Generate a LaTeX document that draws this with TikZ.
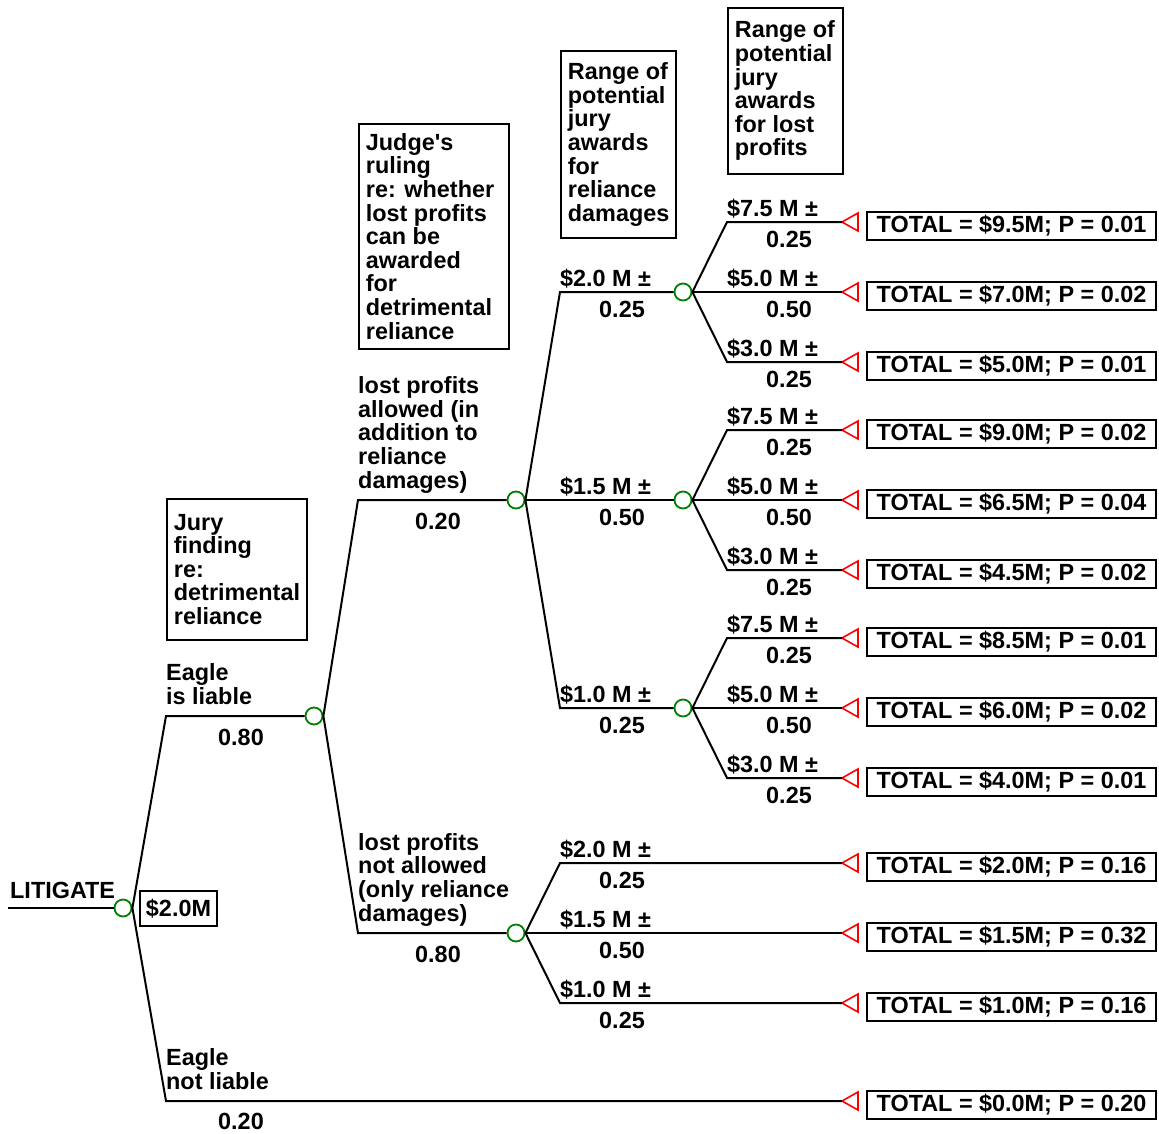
\documentclass[tikz,border=0pt]{standalone}
\usepackage{fontspec}
\setmainfont{Liberation Sans}[Ligatures=TeXOff]
\definecolor{chancegreen}{RGB}{0,128,0}
% left-aligned multi-line text of a fixed width inside a framed note
\newcommand\notetext[2]{\hbox to #1{\vtop{#2}\hss}}
\begin{document}
\begin{tikzpicture}[x=1pt,y=-1pt,
  txt/.style={font=\fontsize{23.4}{23.6}\selectfont\bfseries, inner sep=0pt},
  lbl/.style={txt, anchor=base west},
  prob/.style={txt, anchor=base},
  branch/.style={line width=2pt, black},
  chance/.style={circle, draw=chancegreen, line width=1.8pt, fill=white,
                 minimum size=17pt, inner sep=0pt},
  endtri/.style={draw=red, line width=1.6pt, fill=white, line join=miter},
  total/.style={txt, draw, line width=1.8pt, minimum width=289pt,
                text height=20pt, text depth=8pt, inner ysep=0pt},
  note/.style={txt, draw, line width=1.8pt, anchor=north west,
               inner xsep=7pt, inner ysep=0pt},
]
\useasboundingbox (0,0) rectangle (1159,1133);

% ---- terminal markers and outcome boxes
\foreach \n/\y/\t in {1/222/{\$9.5M; P = 0.01}, 2/292/{\$7.0M; P = 0.02},
                      3/362/{\$5.0M; P = 0.01}, 4/430/{\$9.0M; P = 0.02},
                      5/500/{\$6.5M; P = 0.04}, 6/570/{\$4.5M; P = 0.02},
                      7/638/{\$8.5M; P = 0.01}, 8/708/{\$6.0M; P = 0.02},
                      9/778/{\$4.0M; P = 0.01}, 10/863/{\$2.0M; P = 0.16},
                      11/933/{\$1.5M; P = 0.32}, 12/1003/{\$1.0M; P = 0.16},
                      13/1101/{\$0.0M; P = 0.20}}{
  \coordinate (e\n) at (842,\y);
  \draw[endtri] (e\n) -- ++(16,-9) -- ++(0,18) -- cycle;
  \node[total] (r\n) at (1011.5,\y+4) {TOTAL = \t};
}

% ---- chance nodes
\node[chance] (c0) at (123,908) {};
\node[chance] (c1) at (314,716) {};
\node[chance] (c2) at (516,500) {};
\node[chance] (c3) at (516,933) {};
\node[chance] (c4) at (683,292) {};
\node[chance] (c5) at (683,500) {};
\node[chance] (c6) at (683,708) {};

% ---- root
\coordinate (start) at (8,908);
\draw[branch] (start) -- (c0.west);
\node[lbl] (litigate) at (10,898) {LITIGATE};
\node[txt, draw, line width=1.8pt, minimum width=77pt, minimum height=35pt]
  (value) at (178.5,908.5) {\$2.0M};

% ---- jury finding
\coordinate (k1) at (166,716);
\coordinate (k2) at (166,1101);
\draw[branch] (c0.east) -- (k1) -- (c1.west);
\draw[branch] (c0.east) -- (k2) -- (e13);
\node[lbl] (l1) at (166,704) {\vbox{\hbox{Eagle}\hbox{is liable}}};
\node[prob] (p1) at (241,745) {0.80};
\node[lbl] (l2) at (166,1089) {\vbox{\hbox{Eagle}\hbox{not liable}}};
\node[prob] (p2) at (241,1129) {0.20};

% ---- judge's ruling
\coordinate (k3) at (358,500);
\coordinate (k4) at (358,933);
\draw[branch] (c1.east) -- (k3) -- (c2.west);
\draw[branch] (c1.east) -- (k4) -- (c3.west);
\node[lbl] (l3) at (358,488) {\vbox{\hbox{lost profits}\hbox{allowed (in}%
  \hbox{addition to}\hbox{reliance}\hbox{damages)}}};
\node[prob] (p3) at (438,529) {0.20};
\node[lbl] (l4) at (358,921) {\vbox{\hbox{lost profits}\hbox{not allowed}%
  \hbox{(only reliance}\hbox{damages)}}};
\node[prob] (p4) at (438,962) {0.80};

% ---- reliance damages
\coordinate (k5) at (560,292);
\coordinate (k6) at (560,708);
\draw[branch] (c2.east) -- (k5) -- (c4.west);
\draw[branch] (c2.east) -- (c5.west);
\draw[branch] (c2.east) -- (k6) -- (c6.west);
\coordinate (k7) at (560,863);
\coordinate (k8) at (560,1003);
\draw[branch] (c3.east) -- (k7) -- (e10);
\draw[branch] (c3.east) -- (e11);
\draw[branch] (c3.east) -- (k8) -- (e12);
\foreach \n/\y/\v/\q in {a/292/2.0/0.25, b/500/1.5/0.50, c/708/1.0/0.25,
                         d/863/2.0/0.25, e/933/1.5/0.50, f/1003/1.0/0.25}{
  \node[lbl] (v\n) at (560,\y-6) {\$\v{} M ±};
  \node[prob] (q\n) at (622,\y+25) {\q};
}

% ---- lost profits awards
\foreach \c/\y/\a/\b in {c4/292/1/3, c5/500/4/6, c6/708/7/9}{
  \coordinate (u\c) at (727,\y-70);
  \coordinate (w\c) at (727,\y+70);
  \draw[branch] (\c.east) -- (u\c) -- (e\a);
  \draw[branch] (\c.east) -- (842,\y);
  \draw[branch] (\c.east) -- (w\c) -- (e\b);
  \node[lbl] (x1\c) at (727,\y-76) {\$7.5 M ±};
  \node[prob] (y1\c) at (789,\y-45) {0.25};
  \node[lbl] (x2\c) at (727,\y-6) {\$5.0 M ±};
  \node[prob] (y2\c) at (789,\y+25) {0.50};
  \node[lbl] (x3\c) at (727,\y+64) {\$3.0 M ±};
  \node[prob] (y3\c) at (789,\y+95) {0.25};
}

% ---- stage notes
\node[note, minimum width=140pt, minimum height=141pt] (jury) at (166,498)
  {\notetext{126pt}{\hbox{Jury}\hbox{finding}\hbox{re:}\hbox{detrimental}\hbox{reliance}}};
\node[note, minimum width=150pt, minimum height=225pt] (judge) at (358,123)
  {\notetext{136pt}{\hbox{Judge's}\hbox{ruling}\hbox{re: whether}\hbox{lost profits}%
   \hbox{can be}\hbox{awarded}\hbox{for}\hbox{detrimental}\hbox{reliance}}};
\node[note, minimum width=115pt, minimum height=187pt] (rangeA) at (560,50)
  {\notetext{101pt}{\hbox{Range of}\hbox{potential}\hbox{jury}\hbox{awards}%
   \hbox{for}\hbox{reliance}\hbox{damages}}};
\node[note, minimum width=115pt, minimum height=166pt] (rangeB) at (727,7)
  {\notetext{101pt}{\hbox{Range of}\hbox{potential}\hbox{jury}\hbox{awards}%
   \hbox{for lost}\hbox{profits}}};
\end{tikzpicture}
\end{document}
